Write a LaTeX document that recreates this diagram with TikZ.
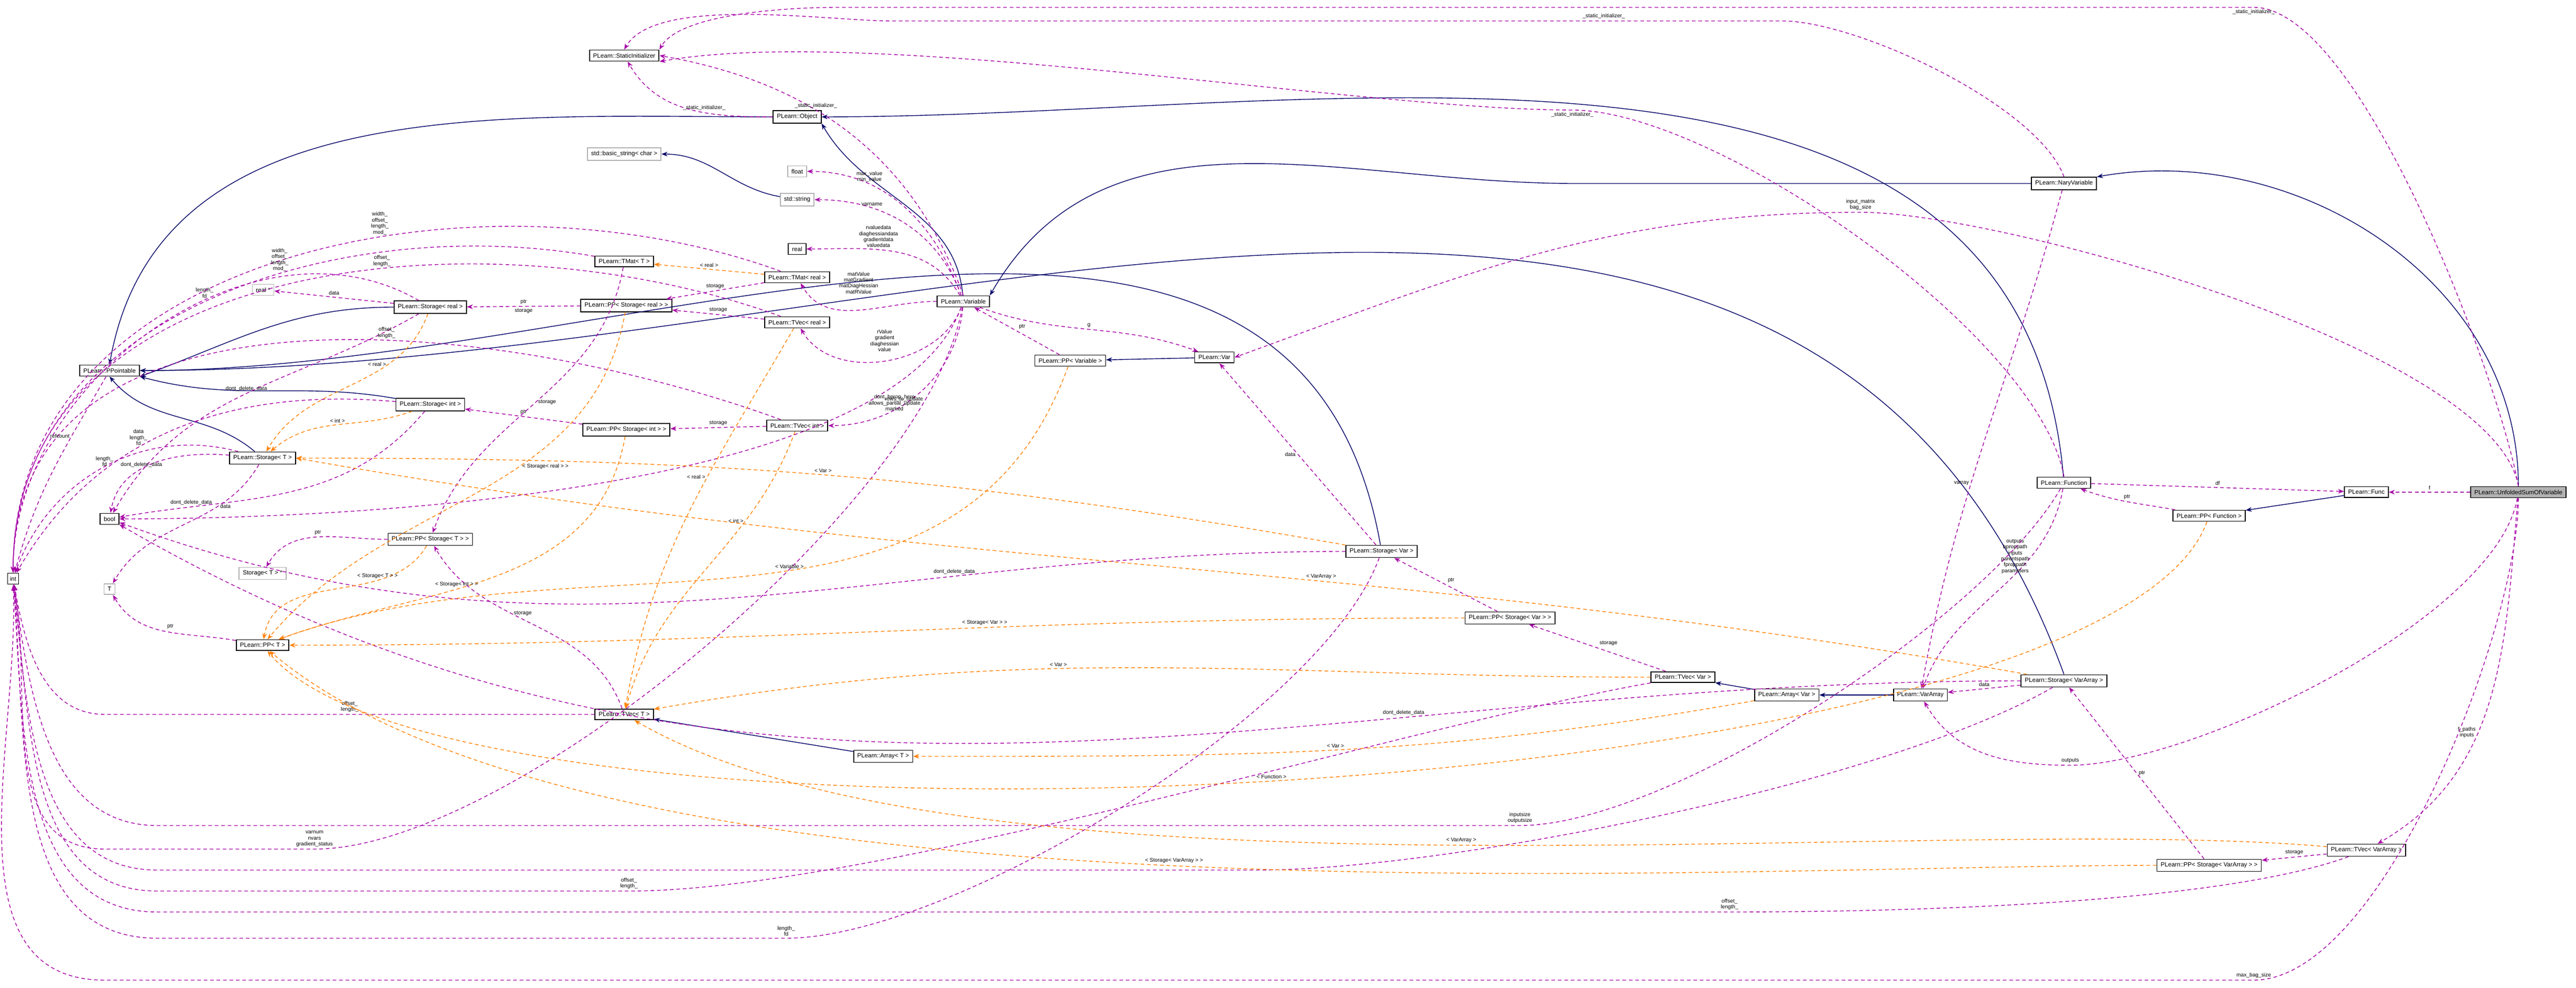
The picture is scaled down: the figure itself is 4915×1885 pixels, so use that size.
\documentclass[tikz,border=0pt]{standalone}
\usepackage{fontspec}
\setmainfont{Liberation Sans}
\usetikzlibrary{arrows.meta}
\begin{document}
\begin{tikzpicture}[x=0.04mm, y=-0.04mm, >={Stealth[length=1.3pt,width=1pt]}]

    \tikzset{%
    cls/.style={
        draw=black,
        line width=0.2pt,
        fill=white,
        font=\fontsize{1.32}{1.45}\selectfont,
        inner xsep=0.8pt,
        inner ysep=0.72pt
        },
    undoc/.style={
        cls,
        draw=black!30
        },
    inherit/.style={->, draw=blue!40!black, line width=0.16pt},
    member/.style={->, draw=violet!70!magenta, line width=0.16pt, dash pattern=on 0.8pt off 0.6pt},
    templ/.style={->, draw=orange, line width=0.16pt, dash pattern=on 0.8pt off 0.6pt},
    lbl/.style={font=\fontsize{1.16}{1.3}\selectfont, align=center, fill=none, inner sep=0.4pt}
    }

    \useasboundingbox (0,0) rectangle (4915,1885);

    % Classes in the upper part
    \node [cls] (sinit) at (1191,106) {PLearn::StaticInitializer};
    \node [cls] (object) at (1521,223) {PLearn::Object};
    \node [undoc] (bstring) at (1191,294) {std::basic\_string< char >};
    \node [undoc] (float) at (1521,327) {float};
    \node [undoc] (string) at (1521,381) {std::string};
    \node [cls] (real) at (1521,475) {real};
    \node [cls] (tmatT) at (1191,499) {PLearn::TMat< T >};
    \node [cls] (tmatreal) at (1521,529) {PLearn::TMat< real >};
    \node [cls] (ppsreal) at (1195,583) {PLearn::PP< Storage< real > >};
    \node [cls] (tvecreal) at (1521,615) {PLearn::TVec< real >};
    \node [cls] (variable) at (1838,575) {PLearn::Variable};
    \node [cls] (ppvariable) at (2042,688) {PLearn::PP< Variable >};
    \node [cls] (var) at (2317,682) {PLearn::Var};
    \node [cls] (nary) at (3938,350) {PLearn::NaryVariable};

    % Classes on the left
    \node [cls] (ppointable) at (209,707) {PLearn::PPointable};
    \node [undoc] (realptr) at (502,553) {real *};
    \node [cls] (storreal) at (821,586) {PLearn::Storage< real >};
    \node [cls] (storint) at (821,772) {PLearn::Storage< int >};
    \node [cls] (ppsint) at (1195,820) {PLearn::PP< Storage< int > >};
    \node [cls] (tvecint) at (1521,812) {PLearn::TVec< int >};
    \node [cls, inner xsep=0.5pt] (int) at (25,1104) {int};
    \node [cls] (bool) at (209,990) {bool};
    \node [undoc] (T) at (209,1124) {T};
    \node [cls] (storT) at (501,874) {PLearn::Storage< T >};
    \node [cls] (ppsT) at (821,1029) {PLearn::PP< Storage< T > >};
    \node [undoc] (storTptr) at (501,1094) {Storage< T > *};
    \node [cls] (ppT) at (501,1231) {PLearn::PP< T >};
    \node [cls] (tvecT) at (1191,1363) {PLearn::TVec< T >};
    \node [cls] (arrayT) at (1685,1443) {PLearn::Array< T >};

    % Classes on the right
    \node [cls] (storvar) at (2636,1052) {PLearn::Storage< Var >};
    \node [cls] (ppsvar) at (2881,1179) {PLearn::PP< Storage< Var > >};
    \node [cls] (tvecvar) at (3211,1292) {PLearn::TVec< Var >};
    \node [cls] (arrayvar) at (3409,1326) {PLearn::Array< Var >};
    \node [cls] (vararray) at (3664,1326) {PLearn::VarArray};
    \node [cls] (function) at (3938,921) {PLearn::Function};
    \node [cls] (ppfunction) at (4215,984) {PLearn::PP< Function >};
    \node [cls] (func) at (4515,939) {PLearn::Func};
    \node [cls, fill=black!30] (unfolded) at (4805,939) {PLearn::UnfoldedSumOfVariable};
    \node [cls] (storva) at (3938,1299) {PLearn::Storage< VarArray >};
    \node [cls] (tvecva) at (4515,1622) {PLearn::TVec< VarArray >};
    \node [cls] (ppsva) at (4215,1651) {PLearn::PP< Storage< VarArray > >};

    % Inheritance
    \draw [inherit] (object) to[out=180,in=80] (ppointable.north);
    \draw [inherit] (storreal) to[out=180,in=20] (ppointable.south east);
    \draw [inherit] (storint) to[out=170,in=-15] (ppointable.south east);
    \draw [inherit] (storT) to[out=140,in=-50] (ppointable.south);
    \draw [inherit] (storvar) to[out=100,in=0] (ppointable.east);
    \draw [inherit] (storva.north) to[out=110,in=0] (ppointable.east);
    \draw [inherit] (variable) to[out=95,in=-60] (object.south east);
    \draw [inherit] (function) to[out=95,in=0] (object.east);
    \draw [inherit] (nary) -- (3000,350) to[out=180,in=60] (variable.north east);
    \draw [inherit] (unfolded.north) to[out=90,in=10] (nary.north east);
    \draw [inherit] (string) to[out=170,in=0] (bstring);
    \draw [inherit] (var) -- (ppvariable);
    \draw [inherit] (func) -- (ppfunction);
    \draw [inherit] (arrayT) -- (tvecT);
    \draw [inherit] (arrayvar) -- (tvecvar);
    \draw [inherit] (vararray) -- (arrayvar);

    % Static initializers
    \draw [member] (object) to[out=180,in=-60] node [lbl, pos=0.4, above] {\_static\_initializer\_} (sinit);
    \draw [member] (variable.north) to[out=110,in=-10] node [lbl, pos=0.6, above] {\_static\_initializer\_} (sinit.east);
    \draw [member] (nary.north) to[out=110,in=0,looseness=0.6] (3400,40) -- (1700,40) node [lbl, pos=0.2, above] {\_static\_initializer\_} to[out=180,in=60,looseness=0.6] (sinit.north);
    \draw [member] (function.north) to[out=100,in=0,looseness=0.6] (3000,210) node [lbl, below] {\_static\_initializer\_} to[out=180,in=10,looseness=0.6] (sinit.south east);
    \draw [member] (unfolded.north) to[out=100,in=0,looseness=0.5] (4300,14) node [lbl, below] {\_static\_initializer\_} -- (1600,14) to[out=180,in=60,looseness=0.6] (sinit.north east);

    % Members of Variable
    \draw [member] (variable) to[out=110,in=0] node [lbl, pos=0.7, above] {max\_value\\min\_value} (float);
    \draw [member] (variable) to[out=110,in=0] node [lbl, pos=0.7, above] {varname} (string);
    \draw [member] (variable) to[out=120,in=0] node [lbl, pos=0.6, above] {rvaluedata\\diaghessiandata\\gradientdata\\valuedata} (real);
    \draw [member] (variable) to[out=180,in=-60] node [lbl, pos=0.5, above=3pt] {matValue\\matGradient\\matDiagHessian\\matRValue} (tmatreal);
    \draw [member] (variable) to[out=-110,in=-60] node [lbl, pos=0.5, above=1.5pt] {rValue\\gradient\\diaghessian\\value} (tvecreal);
    \draw [member] (variable) to[out=-95,in=0] node [lbl, pos=0.6, above] {rows\_to\_update} (tvecint);
    \draw [member] (variable) to[out=-100,in=0,looseness=0.6] (600,1620) node [lbl, above] {varnum\\nvars\\gradient\_status} -- (200,1620) to[out=180,in=-80] (int);
    \draw [member] (variable) to[out=-110,in=0,looseness=0.6] node [lbl, pos=0.2, right] {dont\_bprop\_here\\allows\_partial\_update\\marked} (bool);
    \draw [member] (ppvariable) -- node [lbl, above right] {ptr} (variable);
    \draw [member] (variable) to[out=-20,in=160] node [lbl, pos=0.5, above] {g} (var);
    \draw [member] (nary) to[out=-105,in=80] node [lbl, pos=0.6, left] {varray} (vararray);
    \draw [member] (unfolded.north) to[out=100,in=0,looseness=0.5] (3550,405) node [lbl, above] {input\_matrix\\bag\_size} to[out=180,in=20] (var.east);

    % Storages
    \draw [member] (storreal) -- node [lbl, above] {data} (realptr);
    \draw [member] (storreal) to[out=150,in=90] node [lbl, pos=0.4, above] {length\_\\fd} (int);
    \draw [member] (storreal) to[out=-150,in=60] node [lbl, pos=0.5, above] {dont\_delete\_data} (bool);
    \draw [member] (ppsreal) -- node [lbl, above] {ptr} node [lbl, below] {storage} (storreal);
    \draw [member] (tmatreal) -- node [lbl, above] {storage} (ppsreal);
    \draw [member] (tvecreal) -- node [lbl, above] {storage} (ppsreal);
    \draw [member] (tmatreal) to[out=160,in=90] node [lbl, pos=0.4, above] {width\_\\offset\_\\length\_\\mod\_} (int);
    \draw [member] (tvecreal) to[out=160,in=90] node [lbl, pos=0.4, above] {offset\_\\length\_} (int);
    \draw [member] (tvecint) to[out=160,in=90] node [lbl, pos=0.4, above] {offset\_\\length\_} (int);
    \draw [member] (tmatT) to[out=170,in=90] node [lbl, pos=0.4, above] {width\_\\offset\_\\length\_\\mod\_} (int);
    \draw [member] (storint) to[out=175,in=60] node [lbl, pos=0.6, above] {data\\length\_\\fd} (int);
    \draw [member] (storint) to[out=-130,in=10] node [lbl, pos=0.8, above] {dont\_delete\_data} (bool);
    \draw [member] (ppsint) -- node [lbl, above] {ptr} (storint);
    \draw [member] (tvecint) -- node [lbl, above] {storage} (ppsint);
    \draw [member] (storT) to[out=175,in=80] node [lbl, pos=0.6, above] {dont\_delete\_data} (bool);
    \draw [member] (storT) to[out=-120,in=60] node [lbl, pos=0.3, right] {data} (T);
    \draw [member] (storT) to[out=165,in=70] node [lbl, pos=0.45, left] {length\_\\fd} (int);
    \draw [member] (ppsT) to[out=180,in=60] node [lbl, above] {ptr} (storTptr);
    \draw [member] (tmatT) to[out=-100,in=70] node [lbl, pos=0.5, right] {storage} (ppsT);
    \draw [member] (tvecT) to[out=110,in=-60] node [lbl, pos=0.6, right] {storage} (ppsT);
    \draw [member] (tvecT) -- (200,1363) node [lbl, above, pos=0.5] {offset\_\\length\_} to[out=180,in=-80] (int);
    \draw [member] (ppT) to[out=170,in=-60] node [lbl, pos=0.5, above right] {ptr} (T);
    \draw [member] (ppointable) to[out=-120,in=75] node [lbl, pos=0.3, left] {refcount} (int);

    \draw [member] (storvar) -- node [lbl, pos=0.5, left] {data} (var);
    \draw [member] (storvar) to[out=-110,in=0,looseness=0.6] (1500,1790) node [lbl, above] {length\_\\fd} -- (300,1790) to[out=180,in=-85] (int);
    \draw [member] (storvar) to[out=180,in=-20] node [lbl, pos=0.3, above] {dont\_delete\_data} (bool);
    \draw [member] (ppsvar) -- node [lbl, above right] {ptr} (storvar);
    \draw [member] (tvecvar) -- node [lbl, above right] {storage} (ppsvar);
    \draw [member] (tvecvar) to[out=190,in=0,looseness=0.6] (1200,1700) node [lbl, above] {offset\_\\length\_} -- (300,1700) to[out=180,in=-83] (int);
    \draw [member] (storva) -- node [lbl, above] {data} (vararray);
    \draw [member] (storva) to[out=180,in=-30] node [lbl, pos=0.3, above] {dont\_delete\_data} (bool);
    \draw [member] (storva) to[out=-150,in=0,looseness=0.6] (2400,1660) -- (300,1660) to[out=180,in=-84] (int);
    \draw [member] (ppsva) -- node [lbl, right] {ptr} (storva);
    \draw [member] (tvecva) -- node [lbl, above] {storage} (ppsva);
    \draw [member] (tvecva) to[out=-160,in=0,looseness=0.6] (3300,1740) node [lbl, above] {offset\_\\length\_} -- (300,1740) to[out=180,in=-86] (int);

    % Members of Function and UnfoldedSumOfVariable
    \draw [member] (function) to[out=-100,in=70] node [lbl, pos=0.3, left] {outputs\\bproppath\\inputs\\parentspath\\fproppath\\parameters} (vararray);
    \draw [member] (function) to[out=-120,in=0,looseness=0.6] (2900,1575) node [lbl, above] {inputsize\\outputsize} -- (300,1575) to[out=180,in=-82] (int);
    \draw [member] (ppfunction) to[out=170,in=-20] node [lbl, above] {ptr} (function);
    \draw [member] (function) -- node [lbl, above] {df} (func);
    \draw [member] (unfolded) -- node [lbl, above] {f} (func);
    \draw [member] (unfolded) to[out=-100,in=0,looseness=0.6] (3950,1460) node [lbl, above] {outputs} to[out=180,in=-60] (vararray);
    \draw [member] (unfolded) to[out=-95,in=30] node [lbl, pos=0.6, left] {f\_paths\\inputs} (tvecva);
    \draw [member] (unfolded) to[out=-90,in=0,looseness=0.6] (4300,1870) node [lbl, above] {max\_bag\_size} -- (200,1870) to[out=180,in=-88] (int);

    % Template instances
    \draw [templ] (tmatreal) -- node [lbl, above] {< real >} (tmatT);
    \draw [templ] (tvecreal) to[out=-120,in=80] node [lbl, pos=0.4, left] {< real >} (tvecT);
    \draw [templ] (tvecint) to[out=-110,in=75] node [lbl, pos=0.3, left] {< int >} (tvecT);
    \draw [templ] (storreal) to[out=-110,in=60] node [lbl, pos=0.3, left] {< real >} (storT);
    \draw [templ] (storint) to[out=-160,in=40] node [lbl, above] {< int >} (storT);
    \draw [templ] (storvar) to[out=170,in=0] node [lbl, pos=0.5, above] {< Var >} (storT.east);
    \draw [templ] (storva) to[out=170,in=-10] node [lbl, pos=0.4, above] {< VarArray >} (storT.east);
    \draw [templ] (ppsreal) to[out=-100,in=50] node [lbl, pos=0.4, right] {< Storage< real > >} (ppT);
    \draw [templ] (ppsint) to[out=-100,in=20] node [lbl, pos=0.6, above] {< Storage< int > >} (ppT);
    \draw [templ] (ppsT) to[out=-120,in=80] node [lbl, pos=0.3, above] {< Storage< T > >} (ppT);
    \draw [templ] (ppvariable) to[out=-110,in=20] node [lbl, pos=0.45, above] {< Variable >} (ppT);
    \draw [templ] (ppsvar) to[out=180,in=0] node [lbl, pos=0.4, above] {< Storage< Var > >} (ppT);
    \draw [templ] (ppsva) to[out=180,in=-40,looseness=0.6] node [lbl, pos=0.5, above] {< Storage< VarArray > >} (ppT);
    \draw [templ] (ppfunction) to[out=-110,in=-50,looseness=0.4] node [lbl, pos=0.5, above] {< Function >} (ppT);
    \draw [templ] (tvecvar) to[out=180,in=10] node [lbl, pos=0.6, above] {< Var >} (tvecT);
    \draw [templ] (arrayvar) to[out=190,in=0] node [lbl, pos=0.5, above] {< Var >} (arrayT);
    \draw [templ] (tvecva) to[out=175,in=-30,looseness=0.6] node [lbl, pos=0.5, above] {< VarArray >} (tvecT);

\end{tikzpicture}
\end{document}
